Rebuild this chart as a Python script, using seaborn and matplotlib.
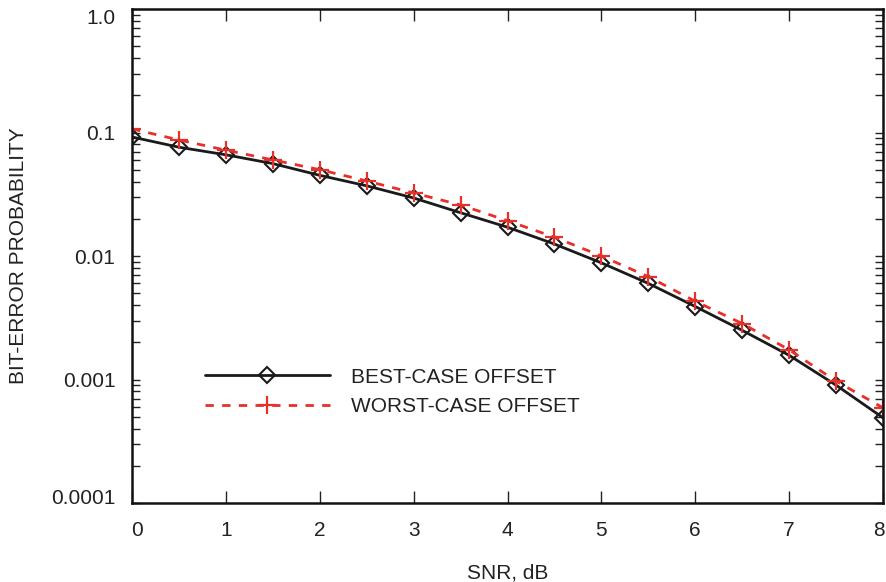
import matplotlib
matplotlib.use("Agg")
import matplotlib.pyplot as plt
from matplotlib.ticker import FixedLocator, LogLocator, NullFormatter
from matplotlib.transforms import ScaledTranslation
import seaborn as sns

snr_db = [0, 0.5, 1, 1.5, 2, 2.5, 3, 3.5, 4, 4.5, 5, 5.5, 6, 6.5, 7, 7.5, 8]
best_case = [0.092, 0.076, 0.066, 0.056, 0.045, 0.037, 0.0295, 0.0224, 0.0171,
             0.0125, 0.0088, 0.0060, 0.0039, 0.0025, 0.00157, 0.00090, 0.00049]
worst_case = [0.107, 0.087, 0.072, 0.060, 0.050, 0.0405, 0.0324, 0.0259, 0.0193,
              0.0142, 0.0100, 0.0068, 0.0043, 0.00284, 0.00174, 0.00097, 0.00059]
y_ticks = [1e-4, 1e-3, 1e-2, 1e-1, 1.0]
y_tick_labels = ["0.0001", "0.001", "0.01", "0.1", "1.0"]
x_ticks = [0, 1, 2, 3, 4, 5, 6, 7, 8]

sns.set_theme(style="ticks")
plt.rcParams["font.family"] = ["Liberation Sans", "DejaVu Sans"]
text_color = "#222222"
fs = 15

fig = plt.figure(figsize=(8.86, 5.82), dpi=100)
ax = fig.add_axes([132 / 886, 1 - 503 / 582, 751 / 886, 494 / 582])

sns.lineplot(x=snr_db, y=best_case, ax=ax, color="#1a1a1a", linewidth=2.0,
             marker="D", markersize=8.5, markerfacecolor="none",
             markeredgecolor="#1a1a1a", markeredgewidth=1.5,
             label="BEST-CASE OFFSET")
sns.lineplot(x=snr_db, y=worst_case, ax=ax, color="#e8302a", linewidth=2.0,
             dashes=(3.0, 3.0), marker="+", markersize=13,
             markeredgecolor="#e8302a", markeredgewidth=1.6,
             label="WORST-CASE OFFSET")

ax.set_yscale("log")
ax.set_xlim(0, 8)
ax.set_ylim(1e-4, 1.0)
ax.xaxis.set_major_locator(FixedLocator(x_ticks))
ax.set_xticklabels([str(t) for t in x_ticks])
ax.yaxis.set_major_locator(FixedLocator(y_ticks))
ax.set_yticklabels(y_tick_labels)
ax.yaxis.set_minor_locator(LogLocator(base=10, subs=range(2, 10)))
ax.yaxis.set_minor_formatter(NullFormatter())

ax.tick_params(axis="x", which="major", direction="in", top=True, length=8.5,
               width=1.0, pad=13, labelsize=fs, labelcolor=text_color, color="#222")
ax.tick_params(axis="y", which="both", direction="in", right=True, length=6,
               width=1.0, pad=12, labelsize=fs, labelcolor=text_color, color="#222")
for s in ax.spines.values():
    s.set_linewidth(1.8)
    s.set_color("#111")

ax.set_xlabel("SNR, dB", fontsize=fs, color=text_color)
ax.set_ylabel("BIT-ERROR PROBABILITY", fontsize=fs, color=text_color)
ax.xaxis.set_label_coords(0.5, -0.122)
ax.yaxis.set_label_coords(-0.138, 0.5)

# end labels sit a little inside the axis corners
yt = ax.yaxis.get_major_ticks()
xt = ax.xaxis.get_major_ticks()
yt[0].label1.set_transform(yt[0].label1.get_transform() + ScaledTranslation(0, 0.06, fig.dpi_scale_trans))
yt[-1].label1.set_transform(yt[-1].label1.get_transform() + ScaledTranslation(0, -0.07, fig.dpi_scale_trans))
xt[0].label1.set_transform(xt[0].label1.get_transform() + ScaledTranslation(0.05, 0, fig.dpi_scale_trans))
xt[-1].label1.set_transform(xt[-1].label1.get_transform() + ScaledTranslation(-0.04, 0, fig.dpi_scale_trans))

leg = ax.legend(loc="upper left", bbox_to_anchor=(0.097, 0.274), frameon=False,
                borderpad=0, borderaxespad=0, handlelength=6.0, handletextpad=1.0,
                labelspacing=0.5, fontsize=fs)
for t in leg.get_texts():
    t.set_color(text_color)

fig.savefig("out.png", dpi=100)
